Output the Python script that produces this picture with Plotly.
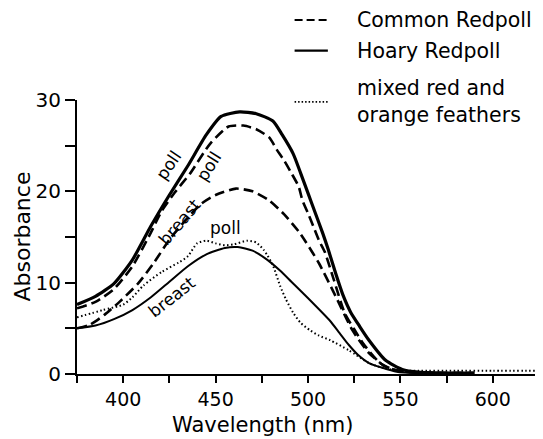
import plotly.graph_objects as go

# ---- data (wavelength nm, absorbance) ----
hoary_poll_x = [375, 385, 395, 405, 415, 425, 435, 445, 453, 463, 472, 481, 486, 492, 496, 500, 504, 508, 511, 515, 519, 523, 528, 533, 542, 551, 560, 575, 590]
hoary_poll_y = [7.6, 8.5, 9.9, 12.5, 16.2, 19.6, 22.8, 26.2, 28.2, 28.7, 28.5, 27.7, 26.2, 24.1, 22.0, 19.8, 17.6, 15.4, 13.6, 11.0, 8.6, 6.8, 5.2, 3.7, 1.5, 0.5, 0.2, 0.1, 0.1]

common_poll_x = [375, 385, 395, 405, 414, 421, 428, 436, 447, 457, 465, 472, 479, 483, 487, 491, 495, 497, 500, 503, 506, 509, 514, 520, 525, 530, 539, 546, 555, 575, 590]
common_poll_y = [7.2, 7.9, 9.3, 11.8, 15.1, 17.9, 19.9, 21.9, 25.2, 27.1, 27.2, 26.8, 25.9, 24.6, 23.4, 22.0, 20.5, 19.0, 17.6, 16.1, 14.6, 13.4, 10.3, 6.6, 4.9, 3.3, 1.2, 0.5, 0.2, 0.1, 0.1]

common_breast_x = [375, 382, 390, 398, 408, 416, 425, 434, 442, 450, 461, 470, 479, 487, 495, 499, 506, 515, 524, 533, 542, 550, 560, 575, 590]
common_breast_y = [5.0, 5.4, 6.5, 7.9, 9.9, 12.0, 14.7, 16.9, 18.6, 19.6, 20.3, 20.0, 19.0, 17.5, 15.6, 14.4, 12.1, 8.5, 4.8, 2.3, 0.8, 0.3, 0.15, 0.1, 0.1]

hoary_breast_x = [375, 385, 395, 405, 415, 425, 435, 445, 455, 462, 470, 478, 485, 491, 501, 512, 517, 522, 527, 533, 548, 560, 580]
hoary_breast_y = [5.0, 5.3, 6.0, 7.0, 8.4, 10.1, 11.8, 13.1, 13.8, 13.9, 13.5, 12.5, 11.3, 10.1, 8.1, 5.8, 4.5, 3.2, 2.1, 1.2, 0.25, 0.1, 0.1]

mixed_x = [375, 389, 400, 405, 411, 421, 430, 435, 440, 445, 450, 455, 460, 467, 472, 476, 478, 481, 485, 488, 492, 496, 501, 506, 512, 522, 533, 540, 548, 560, 580, 600, 625]
mixed_y = [6.2, 7.0, 7.6, 8.4, 9.7, 11.2, 12.2, 12.9, 14.3, 14.6, 14.3, 14.1, 14.2, 14.6, 14.4, 13.6, 13.0, 11.9, 9.6, 8.2, 6.7, 5.6, 4.8, 4.2, 3.7, 2.6, 1.2, 0.7, 0.4, 0.35, 0.35, 0.35, 0.35]

x_ticks = [375, 400, 425, 450, 475, 500, 525, 550, 575, 600, 625]
x_tick_labels = ["", "400", "", "450", "", "500", "", "550", "", "600", ""]
y_ticks = [0, 5, 10, 15, 20, 25, 30]
y_tick_labels = ["0", "", "10", "", "20", "", "30"]

legend_labels = ["Common Redpoll", "Hoary Redpoll", "mixed red and<br>orange feathers"]
curve_labels = ["poll", "poll", "breast", "poll", "breast"]

FONT = "DejaVu Sans"
BLACK = "#000000"

fig = go.Figure()
fig.add_trace(go.Scatter(x=hoary_poll_x, y=hoary_poll_y, mode="lines",
                         line=dict(color=BLACK, width=3.2, shape="spline", smoothing=0.6)))
fig.add_trace(go.Scatter(x=common_poll_x, y=common_poll_y, mode="lines",
                         line=dict(color=BLACK, width=2.6, dash="10px,5px", shape="spline", smoothing=0.6)))
fig.add_trace(go.Scatter(x=common_breast_x, y=common_breast_y, mode="lines",
                         line=dict(color=BLACK, width=2.6, dash="10px,5px", shape="spline", smoothing=0.6)))
fig.add_trace(go.Scatter(x=hoary_breast_x, y=hoary_breast_y, mode="lines",
                         line=dict(color=BLACK, width=2.0, shape="spline", smoothing=0.6)))
fig.add_trace(go.Scatter(x=mixed_x, y=mixed_y, mode="lines",
                         line=dict(color=BLACK, width=2.0, dash="1.5px,2.5px", shape="spline", smoothing=0.6)))

# curve labels (data coordinates)
lab_pos = [(424.6, 22.9, -56), (446.4, 22.8, -58), (430.6, 16.6, -50), (455.5, 16.0, 0), (426.3, 8.4, -38)]
for txt, (lx, ly, ang) in zip(curve_labels, lab_pos):
    fig.add_annotation(x=lx, y=ly, text=txt, showarrow=False, textangle=ang,
                       font=dict(family=FONT, size=17, color=BLACK), xanchor="center", yanchor="middle")

# legend (drawn manually)
leg_y = [1.292, 1.180, 0.993]
leg_dash = ["8px,4px", "solid", "1.5px,2px"]
leg_w = [2.2, 2.2, 1.8]
for txt, yy, dsh, w in zip(legend_labels, leg_y, leg_dash, leg_w):
    fig.add_shape(type="line", xref="paper", yref="paper", x0=0.471, x1=0.543, y0=yy, y1=yy,
                  line=dict(color=BLACK, width=w, dash=dsh))
    fig.add_annotation(xref="paper", yref="paper", x=0.601, y=yy, text=txt, showarrow=False,
                       xanchor="left", yanchor="middle", align="left",
                       font=dict(family=FONT, size=20.5, color=BLACK))

# axis titles
fig.add_annotation(xref="paper", yref="paper", x=0.402, y=-0.186, text="Wavelength (nm)", showarrow=False,
                   xanchor="center", yanchor="middle", font=dict(family=FONT, size=21, color=BLACK))
fig.add_annotation(xref="paper", yref="paper", x=-0.12, y=0.5, text="Absorbance", showarrow=False,
                   textangle=-90, xanchor="center", yanchor="middle", font=dict(family=FONT, size=22, color=BLACK))

# page body has an 8px margin: shrink the figure so the plot area lands where it should
fig.update_layout(
    width=535, height=431,
    margin=dict(l=69, r=4, t=92, b=65),
    paper_bgcolor="white", plot_bgcolor="white",
    showlegend=False,
    font=dict(family=FONT, color=BLACK),
)
fig.update_xaxes(range=[375, 625], tickmode="array", tickvals=x_ticks, ticktext=x_tick_labels,
                 ticks="outside", ticklen=7, tickwidth=1.5, tickcolor=BLACK,
                 showline=True, linecolor=BLACK, linewidth=2, showgrid=False, zeroline=False,
                 tickfont=dict(family=FONT, size=19, color=BLACK))
fig.update_yaxes(range=[0, 30], tickmode="array", tickvals=y_ticks, ticktext=y_tick_labels,
                 ticks="outside", ticklen=10, tickwidth=1.5, tickcolor=BLACK,
                 showline=True, linecolor=BLACK, linewidth=2, showgrid=False, zeroline=False,
                 tickfont=dict(family=FONT, size=20, color=BLACK))

fig.write_html("out.html")
